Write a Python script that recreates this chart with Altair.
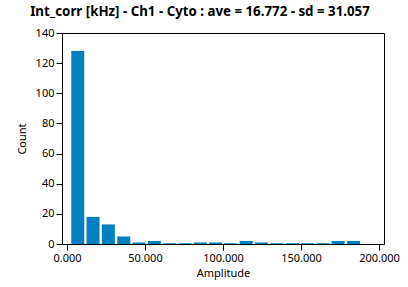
import altair as alt
import pandas as pd

title_text = "Int_corr [kHz] - Ch1 - Cyto : ave = 16.772 - sd = 31.057"
bin_centers = [6.9, 16.7, 26.5, 36.4, 46.2, 56.0, 65.8, 75.6, 85.5, 95.3,
               105.1, 114.9, 124.7, 134.6, 144.4, 154.2, 164.0, 173.8, 183.7]
counts = [128, 18, 13, 5, 1, 2, 0.5, 0.5, 1, 1,
          0.5, 2, 1, 0.5, 0.5, 0.5, 0.5, 2, 2]
x_ticks = [0, 50, 100, 150, 200]
y_ticks = [0, 20, 40, 60, 80, 100, 120, 140]

df = pd.DataFrame({"center": bin_centers, "count": counts})

FONT = "Noto Sans"

chart = alt.Chart(df).mark_bar(size=13, color="#0080c0").encode(
    x=alt.X("center:Q", scale=alt.Scale(domain=[0, 200], nice=False),
            axis=alt.Axis(values=x_ticks, format=".3f", title="Amplitude")),
    y=alt.Y("count:Q", scale=alt.Scale(domain=[0, 140], nice=False),
            axis=alt.Axis(values=y_ticks, title="Count")),
).properties(
    width=322, height=211,
    title=alt.TitleParams(title_text, anchor="middle", dx=-23, offset=9,
                          font=FONT, fontSize=13.3, fontWeight="bold", color="black"),
    autosize=alt.AutoSizeParams(type="none"),
    padding={"left": 62, "top": 33, "right": 24, "bottom": 43},
).configure_view(
    stroke="black", strokeWidth=1
).configure_axis(
    grid=False, domainColor="black", tickColor="black", tickSize=6,
    labelFont=FONT, labelFontSize=11, labelColor="black",
    titleFont=FONT, titleFontSize=11, titleFontWeight="normal", titleColor="black",
    labelPadding=2,
).configure_axisX(titlePadding=4).configure_axisY(titlePadding=8)

chart.save("out.html", embed_options={"renderer": "svg", "actions": False})
